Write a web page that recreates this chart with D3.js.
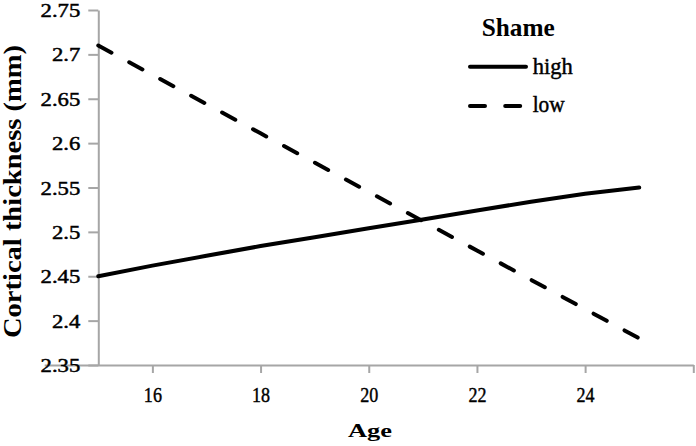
<!DOCTYPE html>
<html>
<head>
<meta charset="utf-8">
<script src="https://cdn.jsdelivr.net/npm/d3@7"></script>
<style>
  html, body { margin: 0; padding: 0; background: #fff; }
  svg { display: block; }
  text { font-family: "Liberation Serif", serif; fill: #000; }
</style>
</head>
<body>
<svg id="chart" width="696" height="446"></svg>
<script>
// ---- data ----
const ages = [15, 16, 17, 18, 19, 20, 21, 22, 23, 24, 25];
const highShame = [2.45, 2.462, 2.473, 2.484, 2.494, 2.504, 2.514, 2.524, 2.534, 2.543, 2.55];
const lowShame  = [2.71, 2.677, 2.644, 2.611, 2.578, 2.545, 2.512, 2.479, 2.446, 2.413, 2.38];
const seriesNames = ["high", "low"];
const yTickValues = [2.35, 2.4, 2.45, 2.5, 2.55, 2.6, 2.65, 2.7, 2.75];
const xTickValues = [16, 18, 20, 22, 24, 26];
const xTickLabels = ["16", "18", "20", "22", "24", ""];
const legendTitle = "Shame";
const xTitle = "Age";
const yTitle = "Cortical thickness (mm)";

// ---- layout ----
const FONT = "'Liberation Serif', serif";
const svg = d3.select("#chart");
const axisColor = "#a6a6a6";
const x = d3.scaleLinear().domain([14, 26]).range([44.2, 693.3]);
const y = d3.scaleLinear().domain([2.35, 2.75]).range([365, 10]);
const yAxisX = x(15);

function stretch(sel, factor) {
  sel.each(function () {
    const len = this.getComputedTextLength();
    if (len > 0) d3.select(this).attr("textLength", len * factor).attr("lengthAdjust", "spacingAndGlyphs");
  });
}
function heavy(sel) {
  sel.attr("stroke", "#000").attr("stroke-width", 0.45);
}

// x axis
const gx = svg.append("g").attr("transform", `translate(0,${y(2.35)})`)
  .call(d3.axisBottom(x).tickValues(xTickValues).tickSize(8).tickSizeOuter(0)
    .tickFormat((d, i) => xTickLabels[i]));
gx.attr("font-family", null).attr("font-size", null);
gx.select(".domain").attr("stroke", axisColor).attr("stroke-width", 2);
gx.selectAll(".tick line").attr("stroke", axisColor).attr("stroke-width", 2);
gx.selectAll(".tick text")
  .attr("y", 36.5).attr("dy", null)
  .style("font-size", "22px").style("font-family", FONT)
  .attr("fill", "#000")
  .call(heavy)
  .call(stretch, 0.82);

// y axis
const gy = svg.append("g").attr("transform", `translate(${yAxisX},0)`)
  .call(d3.axisLeft(y).tickValues(yTickValues).tickSize(10).tickSizeOuter(0)
    .tickFormat(d => String(+d.toFixed(2))));
gy.attr("font-family", null).attr("font-size", null);
gy.select(".domain").attr("stroke", axisColor).attr("stroke-width", 2);
gy.selectAll(".tick line").attr("stroke", axisColor).attr("stroke-width", 2);
gy.selectAll(".tick text")
  .attr("x", -18).attr("dy", null).attr("y", 6.5)
  .style("font-size", "18px").style("font-family", FONT)
  .attr("fill", "#000")
  .call(heavy)
  .call(stretch, 1.26);

// lines
const line = d3.line().x((d, i) => x(ages[i])).y(d => y(d));
svg.append("path").datum(highShame)
  .attr("d", line).attr("fill", "none").attr("stroke", "#000")
  .attr("stroke-width", 4).attr("stroke-linecap", "round");
svg.append("path").datum(lowShame)
  .attr("d", line).attr("fill", "none").attr("stroke", "#000")
  .attr("stroke-width", 4).attr("stroke-linecap", "round")
  .attr("stroke-dasharray", "15 20.2");

// axis titles
svg.append("text").text(xTitle)
  .attr("x", 370).attr("y", 437.3).attr("text-anchor", "middle")
  .style("font-size", "19px").style("font-weight", "bold").style("font-family", FONT)
  .attr("textLength", 44).attr("lengthAdjust", "spacingAndGlyphs");
svg.append("text").text(yTitle)
  .attr("transform", "translate(20.5,191.5) rotate(-90)")
  .attr("text-anchor", "middle")
  .style("font-size", "25px").style("font-weight", "bold").style("font-family", FONT)
  .attr("textLength", 293).attr("lengthAdjust", "spacingAndGlyphs");

// legend
const lg = svg.append("g");
lg.append("text").text(legendTitle)
  .attr("x", 481.7).attr("y", 36)
  .style("font-size", "25px").style("font-weight", "bold").style("font-family", FONT)
  .attr("textLength", 73).attr("lengthAdjust", "spacingAndGlyphs");
const legendRows = [
  { name: seriesNames[0], ly: 66.7, ty: 74, dash: null, len: 40 },
  { name: seriesNames[1], ly: 106, ty: 112, dash: "15 20.2", len: 32 }
];
legendRows.forEach(r => {
  const p = lg.append("line")
    .attr("x1", 470).attr("x2", r.dash ? 522 : 526)
    .attr("y1", r.ly).attr("y2", r.ly)
    .attr("stroke", "#000").attr("stroke-width", 4).attr("stroke-linecap", "round");
  if (r.dash) p.attr("stroke-dasharray", r.dash);
  lg.append("text").text(r.name)
    .attr("x", 532.7).attr("y", r.ty)
    .style("font-size", "22.5px").style("font-family", FONT)
    .call(heavy)
    .attr("textLength", r.len).attr("lengthAdjust", "spacingAndGlyphs");
});
</script>
</body>
</html>
